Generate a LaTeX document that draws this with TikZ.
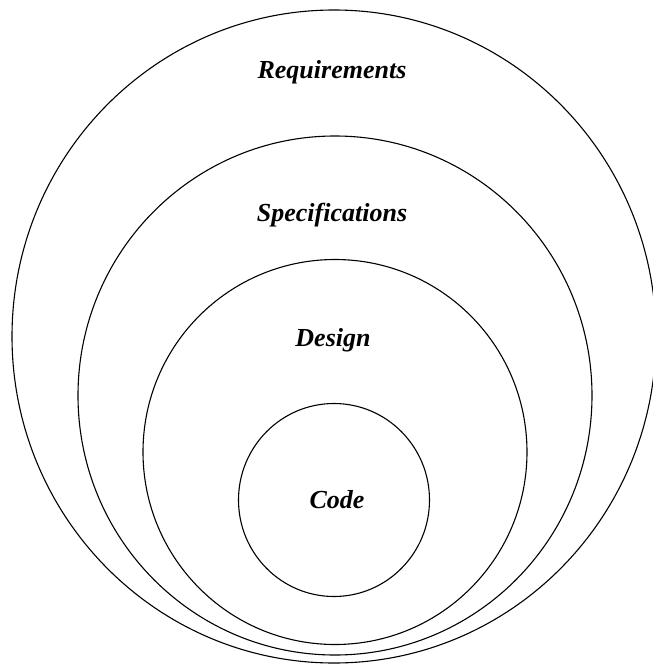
\documentclass[tikz,border=0pt]{standalone}
\usepackage{fontspec}
\setmainfont{Liberation Serif}
\begin{document}
\begin{tikzpicture}[x=1pt,y=-1pt,
  ring/.style={draw=black,line width=1.1pt},
  lbl/.style={anchor=base,inner sep=0pt,font=\fontsize{26}{30}\selectfont\bfseries\itshape}]
\useasboundingbox (0,0) rectangle (653,667);
% nested levels, all sharing nearly the same bottom point
\draw[ring] (334,336.5) ellipse [x radius=322, y radius=326.5];
\draw[ring] (335,395.5) ellipse [x radius=257, y radius=259.5];
\draw[ring] (335,452) ellipse [x radius=192, y radius=192.5];
\draw[ring] (334,500) ellipse [x radius=95.5, y radius=96.5];
% level names
\node[lbl] (req)  at (332,78)  {Requirements};
\node[lbl] (spec) at (332,221) {Specifications};
\node[lbl] (des)  at (333,346) {Design};
\node[lbl] (code) at (337,508) {Code};
\end{tikzpicture}
\end{document}
